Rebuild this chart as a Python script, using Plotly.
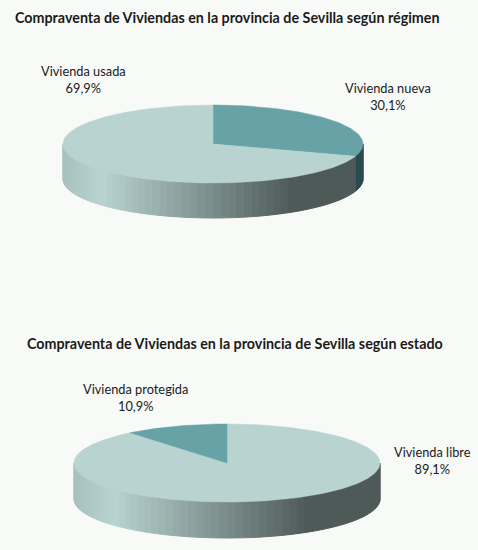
import numpy as np
import plotly.graph_objects as go

# data
regimen_labels = ["Vivienda nueva", "Vivienda usada"]
regimen_values = [30.1, 69.9]
estado_labels = ["Vivienda libre", "Vivienda protegida"]
estado_values = [89.1, 10.9]

titles = ["Compraventa de Viviendas en la provincia de Sevilla según régimen",
          "Compraventa de Viviendas en la provincia de Sevilla según estado"]

LIGHT = (184, 211, 208)
DARK_TEAL = (102, 162, 166)
slice_colors = {
    "Vivienda nueva": (DARK_TEAL, (42, 74, 77)),
    "Vivienda usada": (LIGHT, (78, 90, 88)),
    "Vivienda libre": (LIGHT, (78, 90, 88)),
    "Vivienda protegida": (DARK_TEAL, (42, 74, 77)),
}

FONT = "Lato"
BG = "#f8faf8"


def rgb(c):
    return "rgb(%d,%d,%d)" % tuple(int(round(v)) for v in c)


def mix(c1, c2, t):
    return tuple(a + (b - a) * t for a, b in zip(c1, c2))


def shade(u):
    # Excel-like side lighting: slightly dim at far left, bright, then dark to the right
    if u < 0.13:
        return 0.15 * (1 - u / 0.13)
    if u < 0.76:
        return (u - 0.13) / 0.63
    return 1.0


def pie3d(fig, labels, values, cx, cy, rx, ry, depth):
    total = sum(values)
    cum = np.concatenate([[0], np.cumsum(values)]) / total * 360.0

    def pt(p):
        # p: clockwise degrees from 12 o'clock
        th = np.radians(90 - p)
        return cx + rx * np.cos(th), cy - ry * np.sin(th)

    # side walls (front half: p in [90, 270])
    for i, lab in enumerate(labels):
        a, b = max(cum[i], 90), min(cum[i + 1], 270)
        if b <= a:
            continue
        n = max(1, int(np.ceil((b - a) / 3.0)))
        edges = np.linspace(a, b, n + 1)
        base, dark = slice_colors[lab]
        for p0, p1 in zip(edges[:-1], edges[1:]):
            x0, y0 = pt(p0)
            x1, y1 = pt(p1)
            u = ((x0 + x1) / 2 - (cx - rx)) / (2 * rx)
            col = rgb(mix(base, dark, shade(u)))
            fig.add_trace(go.Scatter(
                x=[x0, x1, x1, x0, x0], y=[y0, y1, y1 + depth, y0 + depth, y0],
                mode="lines", fill="toself", fillcolor=col,
                line=dict(color=col, width=1), hoverinfo="skip", showlegend=False))

    # top faces
    for i, lab in enumerate(labels):
        ps = np.linspace(cum[i], cum[i + 1], max(2, int(cum[i + 1] - cum[i]) + 1))
        xs, ys = zip(*[pt(p) for p in ps])
        col = rgb(slice_colors[lab][0])
        fig.add_trace(go.Scatter(
            x=[cx, *xs, cx], y=[cy, *ys, cy], mode="lines", fill="toself",
            fillcolor=col, line=dict(color=col, width=0.5),
            hoverinfo="text", text="%s: %s%%" % (lab, f"{values[i]:.1f}".replace(".", ",")),
            showlegend=False))


def pct(v):
    return f"{v:.1f}".replace(".", ",") + "%"


fig = go.Figure()
pie3d(fig, regimen_labels, regimen_values, 213, 144, 150, 39, 35)
pie3d(fig, estado_labels, estado_values, 227, 463, 153, 39, 36)

annotations = [
    dict(x=13, y=17, text="<b>%s</b>" % titles[0], xanchor="left", font=dict(size=14.3)),
    dict(x=25, y=343, text="<b>%s</b>" % titles[1], xanchor="left", font=dict(size=14.3)),
]
label_pos = [(83, 79), (388, 96), (432, 460), (135, 397)]
for (lab, val), (x, y) in zip(list(zip(regimen_labels[::-1], regimen_values[::-1]))
                              + list(zip(estado_labels, estado_values)),
                              [label_pos[0], label_pos[1], label_pos[2], label_pos[3]]):
    annotations.append(dict(x=x, y=y, text="%s<br>%s" % (lab, pct(val)), font=dict(size=12.8)))

for a in annotations:
    a.update(xref="x", yref="y", showarrow=False)
    a["font"].update(family=FONT, color="#1a1a1a")

fig.update_layout(
    width=478, height=550, autosize=False,
    margin=dict(l=0, r=0, t=0, b=0),
    paper_bgcolor=BG, plot_bgcolor=BG,
    xaxis=dict(range=[0, 478], visible=False, fixedrange=True),
    yaxis=dict(range=[550, 0], visible=False, fixedrange=True),
    annotations=annotations,
)

fig.write_html("out.html", config={"displayModeBar": False},
               post_script="document.body.style.margin='0';document.body.style.overflow='hidden';")
